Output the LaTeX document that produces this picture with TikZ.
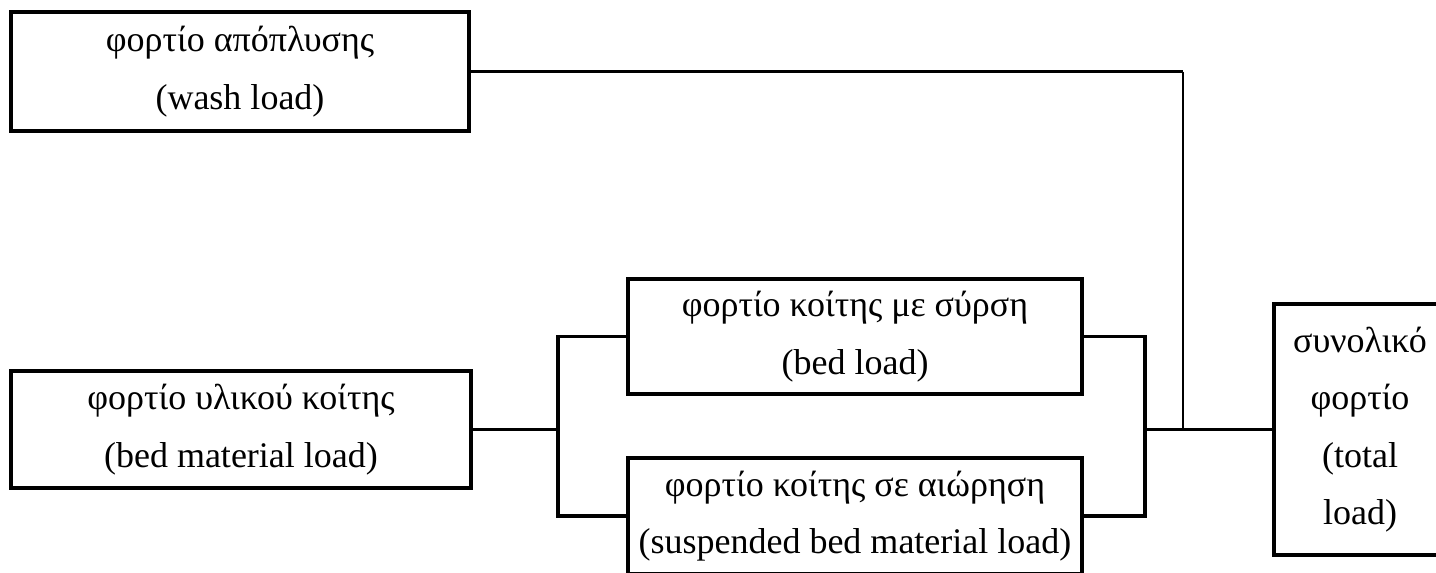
\documentclass[tikz,border=0pt]{standalone}
\usepackage{fontspec}
\setmainfont{Liberation Serif}
\begin{document}
\begin{tikzpicture}[x=0.75pt,y=-0.75pt,
  box/.style={draw,line width=2.6pt,rectangle,align=center,inner sep=0pt,
    font=\fontsize{27}{43}\selectfont},
  thickline/.style={line width=2.6pt},
  midline/.style={line width=2pt},
  thinline/.style={line width=1.3pt}]
\useasboundingbox[fill=white] (0,0) rectangle (1436,572);
\node[box,minimum width=343.5pt,minimum height=89.25pt] (wash) at (240,71.5)
  {φορτίο απόπλυσης\\(wash load)};
\node[box,minimum width=345pt,minimum height=87.75pt] (bedmat) at (241,429.5)
  {φορτίο υλικού κοίτης\\(bed material load)};
\node[box,minimum width=340.5pt,minimum height=86.25pt] (bedload) at (855,336.5)
  {φορτίο κοίτης με σύρση\\(bed load)};
\node[box,minimum width=340.5pt,minimum height=87pt] (susp) at (855,516)
  {φορτίο κοίτης σε αιώρηση\\(suspended bed material load)};
\node[box,minimum width=129pt,minimum height=188.25pt] (total) at (1360,429.5)
  {συνολικό\\φορτίο\\(total\\load)};
\coordinate (bl) at (558,429.5);
\coordinate (br) at (1145,429.5);
\coordinate (jt) at (1183,429.5);
\coordinate (wc) at (1183,71.5);
\draw[thickline] (bedmat.east) -- (bl);
\draw[thickline] (bedload.west) -| (bl) |- (susp.west);
\draw[thickline] (bedload.east) -| (br) |- (susp.east);
\draw[midline] (br) -- (total.west);
\draw[thickline] (wash.east) -- (wc);
\draw[thinline] (wc) -- (jt);
\end{tikzpicture}
\end{document}
